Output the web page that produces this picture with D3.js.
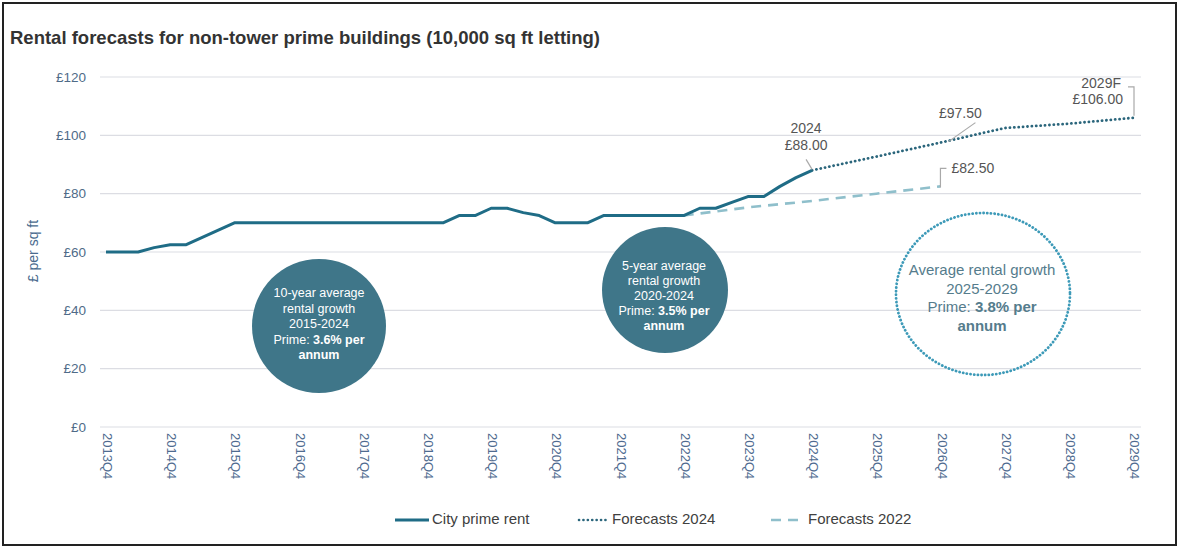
<!DOCTYPE html>
<html>
<head>
<meta charset="utf-8">
<script src="https://cdn.jsdelivr.net/npm/d3@7"></script>
<style>
  html, body { margin: 0; padding: 0; background: #fff; }
  svg { display: block; font-family: "Liberation Sans", Arial, sans-serif; }
</style>
</head>
<body>
<svg id="chart" width="1184" height="548"></svg>
<script>
// ---------- DATA ----------
const title = "Rental forecasts for non-tower prime buildings (10,000 sq ft letting)";
const tickLabels = ["2013Q4","2014Q4","2015Q4","2016Q4","2017Q4","2018Q4","2019Q4","2020Q4",
  "2021Q4","2022Q4","2023Q4","2024Q4","2025Q4","2026Q4","2027Q4","2028Q4","2029Q4"];
const yTicks = [0, 20, 40, 60, 80, 100, 120];

const rentQuarters = ["2013Q4",
  "2014Q1","2014Q2","2014Q3","2014Q4",
  "2015Q1","2015Q2","2015Q3","2015Q4",
  "2016Q1","2016Q2","2016Q3","2016Q4",
  "2017Q1","2017Q2","2017Q3","2017Q4",
  "2018Q1","2018Q2","2018Q3","2018Q4",
  "2019Q1","2019Q2","2019Q3","2019Q4",
  "2020Q1","2020Q2","2020Q3","2020Q4",
  "2021Q1","2021Q2","2021Q3","2021Q4",
  "2022Q1","2022Q2","2022Q3","2022Q4",
  "2023Q1","2023Q2","2023Q3","2023Q4",
  "2024Q1","2024Q2","2024Q3","2024Q4"];
const rentValues = [60,
  60, 60, 61.5, 62.5,
  62.5, 65, 67.5, 70,
  70, 70, 70, 70,
  70, 70, 70, 70,
  70, 70, 70, 70,
  70, 72.5, 72.5, 75,
  75, 73.5, 72.5, 70,
  70, 70, 72.5, 72.5,
  72.5, 72.5, 72.5, 72.5,
  75, 75, 77, 79,
  79, 82.5, 85.5, 88];

const f2024Quarters = ["2024Q4","2025Q4","2026Q4","2027Q4","2028Q4","2029Q4"];
const f2024Values = [88, 92.7, 97.5, 102.5, 104, 106];

const f2022Quarters = ["2022Q4","2023Q4","2024Q4","2025Q4","2026Q4"];
const f2022Values = [72.5, 75.3, 77.5, 80, 82.5];

const seriesNames = ["City prime rent", "Forecasts 2024", "Forecasts 2022"];

// ---------- SETUP ----------
const svg = d3.select("#chart");
const colMain = "#1f6c86", colF24 = "#2b667c", colF22 = "#8fbfcb";
const circleFill = "#3f7689";

const qNum = q => +q.slice(0, 4) + (+q.slice(5) - 1) / 4;

const x = d3.scaleLinear().domain([qNum("2013Q4"), qNum("2029Q4")]).range([106, 1133]);
const y = d3.scaleLinear().domain([0, 120]).range([427, 77]);

// frame
svg.append("rect").attr("x", 3).attr("y", 3).attr("width", 1173).attr("height", 542)
  .attr("fill", "none").attr("stroke", "#222").attr("stroke-width", 2);

// title
svg.append("text").attr("x", 10).attr("y", 44).text(title)
  .attr("font-size", 18.5).attr("font-weight", "bold").attr("fill", "#333");

// grid + y axis
const yAxis = d3.axisLeft(y).tickValues(yTicks).tickSize(0).tickPadding(0)
  .tickFormat(d => "£" + d);
const gy = svg.append("g").attr("transform", "translate(86,0)").call(yAxis);
gy.select(".domain").remove();
gy.selectAll("text").attr("font-size", 13.5).attr("fill", "#4f6b88")
  .attr("font-family", "Liberation Sans, Arial, sans-serif");

svg.append("g").selectAll("line").data(yTicks).join("line")
  .attr("x1", 100).attr("x2", 1141)
  .attr("y1", d => y(d)).attr("y2", d => y(d))
  .attr("stroke", "#dcdde3").attr("stroke-width", 1.2);

svg.append("text").attr("transform", `translate(38,${251}) rotate(-90)`)
  .attr("text-anchor", "middle").attr("font-size", 14).attr("fill", "#4a6b8e")
  .text("£ per sq ft");

// x axis labels (rotated)
const xAxis = d3.axisBottom(x).tickValues(tickLabels.map(qNum)).tickSize(0)
  .tickFormat((d, i) => tickLabels[i]);
const gx = svg.append("g").attr("transform", `translate(0,${y(0)})`).call(xAxis);
gx.select(".domain").remove();
gx.selectAll("text")
  .attr("font-size", 13).attr("fill", "#4f6b8f")
  .attr("font-family", "Liberation Sans, Arial, sans-serif")
  .attr("text-anchor", "start")
  .attr("dy", null)
  .attr("y", 0)
  .attr("transform", "translate(0,6) rotate(90)")
  .attr("dominant-baseline", "middle");

// circles (behind lines)
function circleText(cx, cy, lines, color, size, lh) {
  const t = svg.append("text").attr("text-anchor", "middle").attr("font-size", size).attr("fill", color);
  const n = lines.length;
  lines.forEach((ln, i) => {
    const ts = t.append("tspan").attr("x", cx).attr("y", cy + (i - (n - 1) / 2) * lh);
    ln.forEach(seg => ts.append("tspan").text(seg.t).attr("font-weight", seg.b ? "bold" : "normal"));
  });
  t.attr("dominant-baseline", "middle");
}

svg.append("circle").attr("cx", 319).attr("cy", 326).attr("r", 67).attr("fill", circleFill);
circleText(319, 325, [
  [{t: "10-year average"}], [{t: "rental growth"}], [{t: "2015-2024"}],
  [{t: "Prime: "}, {t: "3.6% per", b: true}], [{t: "annum", b: true}]
], "#fff", 12.5, 15.5);

svg.append("circle").attr("cx", 665).attr("cy", 290).attr("r", 63).attr("fill", circleFill);
circleText(664, 297, [
  [{t: "5-year average"}], [{t: "rental growth"}], [{t: "2020-2024"}],
  [{t: "Prime: "}, {t: "3.5% per", b: true}], [{t: "annum", b: true}]
], "#fff", 12.5, 15);

svg.append("ellipse").attr("cx", 983).attr("cy", 294).attr("rx", 87).attr("ry", 81)
  .attr("fill", "none").attr("stroke", "#3d9ab8").attr("stroke-width", 2.8)
  .attr("stroke-dasharray", "0.1,3.6").attr("stroke-linecap", "round");
circleText(982, 299, [
  [{t: "Average rental growth"}], [{t: "2025-2029"}],
  [{t: "Prime: "}, {t: "3.8% per", b: true}], [{t: "annum", b: true}]
], "#557c8c", 15, 18.5);

// lines
const line = d3.line().x(d => x(qNum(d[0]))).y(d => y(d[1]));

svg.append("path").datum(d3.zip(f2022Quarters, f2022Values)).attr("d", line)
  .attr("fill", "none").attr("stroke", colF22).attr("stroke-width", 2.6)
  .attr("stroke-dasharray", "10,7");

svg.append("path").datum(d3.zip(f2024Quarters, f2024Values)).attr("d", line)
  .attr("fill", "none").attr("stroke", colF24).attr("stroke-width", 2.8)
  .attr("stroke-dasharray", "0.1,4.3").attr("stroke-linecap", "round");

svg.append("path").datum(d3.zip(rentQuarters, rentValues)).attr("d", line)
  .attr("fill", "none").attr("stroke", colMain).attr("stroke-width", 3)
  .attr("stroke-linejoin", "round");

// annotations
const annCol = "#555", leadCol = "#a9a9a9", annSize = 14;
const xa = x(qNum("2024Q4")), ya = y(88);
svg.append("text").attr("x", xa - 6).attr("y", ya - 37).attr("text-anchor", "middle")
  .attr("font-size", annSize).attr("fill", annCol).text("2024");
svg.append("text").attr("x", xa - 6).attr("y", ya - 20).attr("text-anchor", "middle")
  .attr("font-size", annSize).attr("fill", annCol).text("£88.00");
svg.append("line").attr("x1", xa - 6).attr("y1", ya - 11).attr("x2", xa).attr("y2", ya - 1)
  .attr("stroke", leadCol).attr("stroke-width", 1.2);

const xb = x(qNum("2026Q4")) + 8, yb = y(97.5);
svg.append("text").attr("x", xb + 12).attr("y", yb - 25).attr("text-anchor", "middle")
  .attr("font-size", annSize).attr("fill", annCol).text("£97.50");
svg.append("line").attr("x1", xb + 27).attr("y1", yb - 20).attr("x2", xb).attr("y2", yb - 1)
  .attr("stroke", leadCol).attr("stroke-width", 1.2);

const xc = x(qNum("2029Q4")), yc = y(106);
svg.append("text").attr("x", xc - 12).attr("y", yc - 30).attr("text-anchor", "end")
  .attr("font-size", annSize).attr("fill", annCol).text("2029F");
svg.append("text").attr("x", xc - 10).attr("y", yc - 14).attr("text-anchor", "end")
  .attr("font-size", annSize).attr("fill", annCol).text("£106.00");
svg.append("path").attr("d", `M${xc - 5},${yc - 31}H${xc + 1}V${yc - 2}`)
  .attr("fill", "none").attr("stroke", leadCol).attr("stroke-width", 1.2);

const xd = x(qNum("2026Q4")), yd = y(82.5);
svg.append("path").attr("d", `M${xd},${yd + 1}V${yd - 18}H${xd + 6}`)
  .attr("fill", "none").attr("stroke", leadCol).attr("stroke-width", 1.2);
svg.append("text").attr("x", xd + 11).attr("y", yd - 13).attr("text-anchor", "start")
  .attr("font-size", annSize).attr("fill", annCol).text("£82.50");

// legend
const legY = 520;
const leg = [
  {x1: 395, x2: 429, tx: 432, stroke: colMain, dash: null, w: 3, cap: "butt"},
  {x1: 579, x2: 607, tx: 612, stroke: colF24, dash: "0.1,4.3", w: 2.6, cap: "round"},
  {x1: 771, x2: 803, tx: 808, stroke: colF22, dash: "10,7", w: 2.6, cap: "butt"}
];
leg.forEach((l, i) => {
  svg.append("line").attr("x1", l.x1).attr("x2", l.x2).attr("y1", legY).attr("y2", legY)
    .attr("stroke", l.stroke).attr("stroke-width", l.w).attr("stroke-dasharray", l.dash)
    .attr("stroke-linecap", l.cap);
  svg.append("text").attr("x", l.tx).attr("y", legY).attr("dominant-baseline", "middle")
    .attr("font-size", 15).attr("fill", "#404040").text(seriesNames[i]);
});
</script>
</body>
</html>
